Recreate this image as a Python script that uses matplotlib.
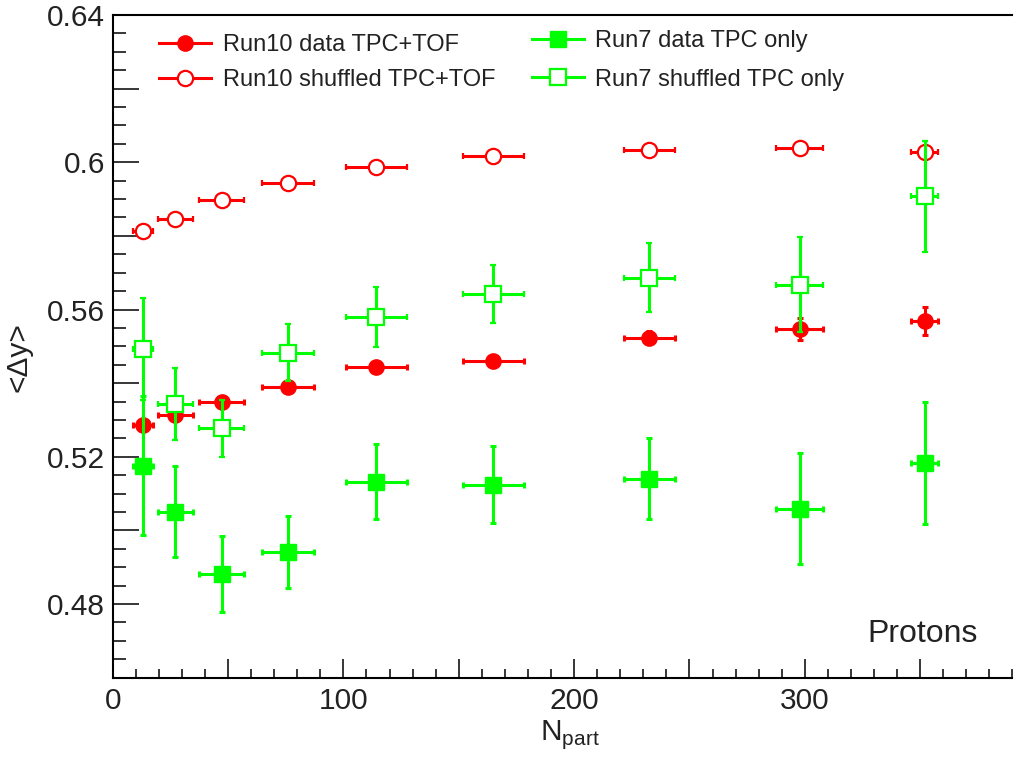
import matplotlib
matplotlib.use("Agg")
import matplotlib.pyplot as plt
from matplotlib.ticker import MultipleLocator, FuncFormatter
from matplotlib.lines import Line2D

plt.rcParams['font.family'] = ['Liberation Sans', 'DejaVu Sans']
plt.rcParams['mathtext.fontset'] = 'custom'
plt.rcParams['mathtext.rm'] = 'Liberation Sans'
plt.rcParams['text.color'] = '#222222'

# centrality bins (N_part) and their widths
npart = [13.3, 27.2, 47.3, 76.0, 114.3, 165.0, 232.6, 297.8, 352.0]
npart_err = [4.3, 7.6, 9.7, 11.2, 13.1, 13.3, 11.2, 10.1, 5.9]

# <Delta y> values
run10_data = [0.5286, 0.5313, 0.5348, 0.5389, 0.5444, 0.5460, 0.5524, 0.5547, 0.5569]
run10_data_err = [0.0015, 0.0012, 0.0010, 0.0010, 0.0012, 0.0015, 0.0018, 0.0030, 0.0038]
run10_shuf = [0.5813, 0.5845, 0.5897, 0.5945, 0.5986, 0.6017, 0.6033, 0.6038, 0.6029]
run10_shuf_err = [0.0005, 0.0005, 0.0005, 0.0005, 0.0005, 0.0005, 0.0005, 0.0005, 0.0008]
run7_data = [0.5176, 0.5051, 0.4882, 0.4941, 0.5132, 0.5124, 0.5140, 0.5059, 0.5183]
run7_data_err = [0.0188, 0.0124, 0.0103, 0.0098, 0.0102, 0.0105, 0.0110, 0.0151, 0.0165]
run7_shuf = [0.5492, 0.5343, 0.5277, 0.5483, 0.5580, 0.5642, 0.5686, 0.5667, 0.5908]
run7_shuf_err = [0.0139, 0.0097, 0.0078, 0.0078, 0.0082, 0.0079, 0.0094, 0.0129, 0.0151]

red = '#ff0000'
green = '#00ff00'
W, H = 1014, 759

fig = plt.figure(figsize=(W / 100, H / 100), dpi=100)
ax = fig.add_axes([112.7 / W, 1 - 677.7 / H, (1012.5 - 112.7) / W, (677.7 - 15) / H])

ms = 11
common = dict(xerr=npart_err, linestyle='none', elinewidth=2.2, capsize=2,
              capthick=2.2, markersize=ms)
ax.errorbar(npart, run10_shuf, yerr=run10_shuf_err, marker='o', color=red,
            mfc='white', mec=red, mew=1.6, zorder=2, **common)
ax.errorbar(npart, run10_data, yerr=run10_data_err, marker='o', color=red,
            mfc=red, mec=red, zorder=3, **common)
ax.errorbar(npart, run7_data, yerr=run7_data_err, marker='s', color=green,
            mfc=green, mec=green, zorder=4, **common)
ax.errorbar(npart, run7_shuf, yerr=run7_shuf_err, marker='s', color=green,
            mfc='white', mec=green, mew=1.6, zorder=5, **common)

ax.set_xlim(0, 390)
ax.set_ylim(0.46, 0.64)

ax.xaxis.set_major_locator(MultipleLocator(50))
ax.xaxis.set_minor_locator(MultipleLocator(10))
ax.yaxis.set_major_locator(MultipleLocator(0.02))
ax.yaxis.set_minor_locator(MultipleLocator(0.005))
ax.xaxis.set_major_formatter(FuncFormatter(
    lambda v, p: f'{v:.0f}' if round(v) % 100 == 0 else ''))
ax.yaxis.set_major_formatter(FuncFormatter(
    lambda v, p: f'{round(v, 2):g}' if round(v * 100) % 4 == 0 else ''))

ax.tick_params(axis='both', which='both', direction='in', colors='black',
               labelcolor='#222222', labelsize=21.5, width=1.1)
ax.tick_params(axis='y', which='major', length=18.7, pad=5.5)
ax.tick_params(axis='y', which='minor', length=9.4)
ax.tick_params(axis='x', which='major', length=13.7, pad=7)
ax.tick_params(axis='x', which='minor', length=6.5)
ax.spines['right'].set_visible(False)
for s in ['left', 'bottom', 'top']:
    ax.spines[s].set_linewidth(1.5)

fig.text(18 / W, 1 - 357 / H, '<Δy>', rotation=90, ha='center', va='center',
         fontsize=21.5)
fig.text(570 / W, 1 - 740 / H, r'N$_{\rm part}$', ha='center', va='baseline',
         fontsize=21.5)
fig.text(867.7 / W, 1 - 641.7 / H, 'Protons', ha='left', va='baseline',
         fontsize=23)

# legends (ROOT style, line through marker)
h_r10d = Line2D([], [], color=red, lw=2.2, marker='o', ms=ms, mfc=red, mec=red)
h_r10s = Line2D([], [], color=red, lw=2.2, marker='o', ms=ms, mfc='white', mec=red, mew=1.6)
h_r7d = Line2D([], [], color=green, lw=2.2, marker='s', ms=ms, mfc=green, mec=green)
h_r7s = Line2D([], [], color=green, lw=2.2, marker='s', ms=ms, mfc='white', mec=green, mew=1.6)

leg_kw = dict(frameon=False, fontsize=17, handlelength=2.2, handletextpad=0.5,
              borderpad=0, borderaxespad=0, loc='upper left')
leg1 = ax.legend([h_r10d, h_r10s], ['Run10 data TPC+TOF', 'Run10 shuffled TPC+TOF'],
                 bbox_to_anchor=(159 / W, 1 - 34 / H), bbox_transform=fig.transFigure,
                 labelspacing=0.55, **leg_kw)
ax.add_artist(leg1)
ax.legend([h_r7d, h_r7s], ['Run7 data TPC only', 'Run7 shuffled TPC only'],
          bbox_to_anchor=(531.7 / W, 1 - 30 / H), bbox_transform=fig.transFigure,
          labelspacing=0.7, **leg_kw)

fig.savefig('out.png', dpi=100)
